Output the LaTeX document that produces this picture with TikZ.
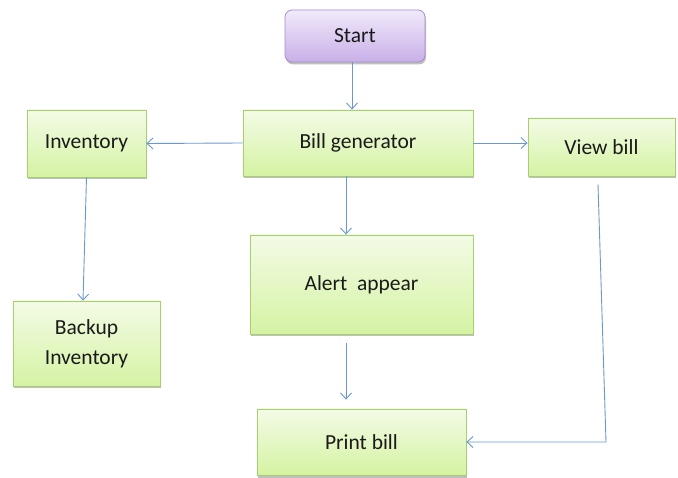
\documentclass[tikz,border=0pt]{standalone}
\usepackage{fontspec}
\setmainfont{Carlito}
\usetikzlibrary{arrows.meta,shadows}
\definecolor{gtop}{HTML}{F3FBE6}
\definecolor{gbot}{HTML}{D5F3A3}
\definecolor{gline}{HTML}{A6CF6F}
\definecolor{ptop}{HTML}{F1EAFB}
\definecolor{pbot}{HTML}{C8B0E8}
\definecolor{pline}{HTML}{A88CCB}
\definecolor{arr}{HTML}{6A98D2}
\definecolor{txt}{HTML}{1A1A1A}
\tikzset{
  box/.style={draw=gline, line width=0.8pt, top color=gtop, bottom color=gbot,
    text=txt, font=\fontsize{21.5}{30}\selectfont, align=center, inner sep=0pt,
    drop shadow={shadow xshift=1pt, shadow yshift=-2.5pt, fill=black, opacity=0.25}},
  startbox/.style={box, draw=pline, top color=ptop, bottom color=pbot, rounded corners=7pt},
  conn/.style={draw=arr, line width=0.9pt, -{Straight Barb[length=6pt,width=11pt]}}
}
\begin{document}
\begin{tikzpicture}[x=1pt,y=-1pt]
\useasboundingbox (0,0) rectangle (678,478);
\node[startbox, minimum width=140pt, minimum height=52pt] (start) at (355,36) {Start};
\node[box, minimum width=230pt, minimum height=66pt] (bill) at (358,143) {Bill generator};
\node[box, minimum width=119pt, minimum height=67pt] (inv) at (86.5,143.5) {Inventory};
\node[box, minimum width=147pt, minimum height=58pt] (view) at (601.5,147) {View bill};
\node[box, minimum width=223pt, minimum height=99pt] (alert) at (361.5,284.5) {Alert\ \ appear};
\node[box, minimum width=147pt, minimum height=85pt] (backup) at (86.5,343.5) {Backup\\Inventory};
\node[box, minimum width=209pt, minimum height=66pt] (print) at (361.5,442) {Print bill};
\draw[conn] ([xshift=-3pt]start.south) -- ([xshift=-6pt]bill.north);
\draw[conn] (bill.west) -- (inv.east);
\draw[conn] (bill.east) -- (bill.east -| view.west);
\draw[conn] ([xshift=-12pt]bill.south) -- ([xshift=-15.5pt]alert.north);
\draw[conn] ([xshift=-15.5pt,yshift=-9pt]alert.south) -- ([xshift=-15.5pt,yshift=9pt]print.north);
\draw[conn] (inv.south) -- ([xshift=-3.5pt]backup.north);
\coordinate (corner) at (606,442);
\draw[conn] ([xshift=-3.5pt,yshift=-8pt]view.south) -- (corner) -- (print.east);
\end{tikzpicture}
\end{document}
